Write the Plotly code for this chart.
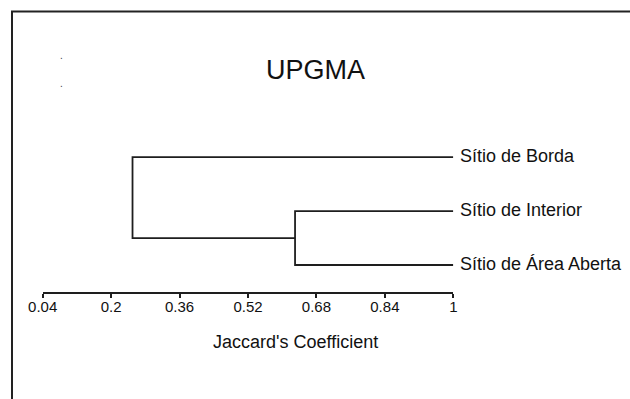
import plotly.graph_objects as go

# ---- data ----
leaf_labels = ["Sítio de Borda", "Sítio de Interior", "Sítio de Área Aberta"]
leaf_positions = [3, 2, 1]          # vertical order of the leaves
leaf_similarity = 1.0                # leaves sit at similarity 1
# merges: (child_a, child_b, similarity); ids >= 3 refer to earlier merges
merges = [(1, 2, 0.63), (0, 3, 0.25)]
tick_values = [0.04, 0.2, 0.36, 0.52, 0.68, 0.84, 1]
tick_labels = ["0.04", "0.2", "0.36", "0.52", "0.68", "0.84", "1"]
title_text = "UPGMA"
axis_title = "Jaccard's Coefficient"

W, H = 630, 399
line_color = "#1e1e1e"
font_family = "Liberation Sans, Arial, sans-serif"

# ---- build dendrogram segments ----
node_x = {i: leaf_similarity for i in range(len(leaf_labels))}
node_y = {i: leaf_positions[i] for i in range(len(leaf_labels))}
xs, ys = [], []
for k, (a, b, s) in enumerate(merges):
    nid = len(leaf_labels) + k
    xs += [node_x[a], s, s, node_x[b], None]
    ys += [node_y[a], node_y[a], node_y[b], node_y[b], None]
    node_x[nid] = s
    node_y[nid] = (node_y[a] + node_y[b]) / 2

fig = go.Figure()
fig.add_trace(go.Scatter(x=xs, y=ys, mode="lines",
                         line=dict(color=line_color, width=1.8),
                         hoverinfo="skip", showlegend=False, cliponaxis=False))

for lab, pos in zip(leaf_labels, leaf_positions):
    fig.add_annotation(x=leaf_similarity, y=pos, xref="x", yref="y",
                       text=lab, showarrow=False, xanchor="left", yanchor="middle",
                       xshift=5, yshift=1,
                       font=dict(family=font_family, size=18, color="#111"))

# pixel geometry of the axis
x_left_px, x_right_px, axis_y_px = 42.7, 453.3, 292.3
y_scale = 53.9
y0 = 1 - (axis_y_px - 265) / y_scale
y1 = y0 + axis_y_px / y_scale

fig.update_layout(
    template="none",
    autosize=False,
    width=W, height=H,
    margin=dict(l=0, r=0, t=0, b=0, pad=0, autoexpand=False),
    paper_bgcolor="white", plot_bgcolor="white",
    showlegend=False,
    title=dict(text=title_text, x=315.5 / W, xanchor="center",
               y=1 - 70 / H, yanchor="middle", yref="container",
               font=dict(family=font_family, size=27, color="#111")),
    xaxis=dict(domain=[x_left_px / W, x_right_px / W], range=[0.04, 1],
               automargin=False,
               showgrid=False, zeroline=False, showline=True,
               linecolor=line_color, linewidth=1.8,
               ticks="outside", ticklen=4, tickwidth=1.5, tickcolor=line_color,
               tickvals=tick_values, ticktext=tick_labels,
               ticklabelstandoff=-4,
               tickfont=dict(family=font_family, size=15, color="#111"),
               fixedrange=True),
    yaxis=dict(domain=[(H - axis_y_px) / H, 1], range=[y0, y1],
               automargin=False, visible=False, fixedrange=True),
)

# axis title (offset to the right of the axis centre, as in the original)
fig.add_annotation(x=295 / W, y=1 - 341.7 / H, xref="paper", yref="paper",
                   text=axis_title, showarrow=False,
                   xanchor="center", yanchor="middle",
                   font=dict(family=font_family, size=18, color="#111"))

# frame lines (left and top) of the original picture
fig.add_shape(type="line", xref="paper", yref="paper",
              x0=12 / W, x1=12 / W, y0=0, y1=1 - 11 / H,
              line=dict(color="#222", width=2))
fig.add_shape(type="line", xref="paper", yref="paper",
              x0=11 / W, x1=1, y0=1 - 11.5 / H, y1=1 - 11.5 / H,
              line=dict(color="#222", width=2))

# tiny stray dots seen in the upper-left corner
for yy in (51, 79):
    fig.add_annotation(x=58 / W, y=1 - yy / H, xref="paper", yref="paper",
                       text=".", showarrow=False, yshift=3,
                       font=dict(family=font_family, size=10, color="#444"))

fig.write_html("out.html")
